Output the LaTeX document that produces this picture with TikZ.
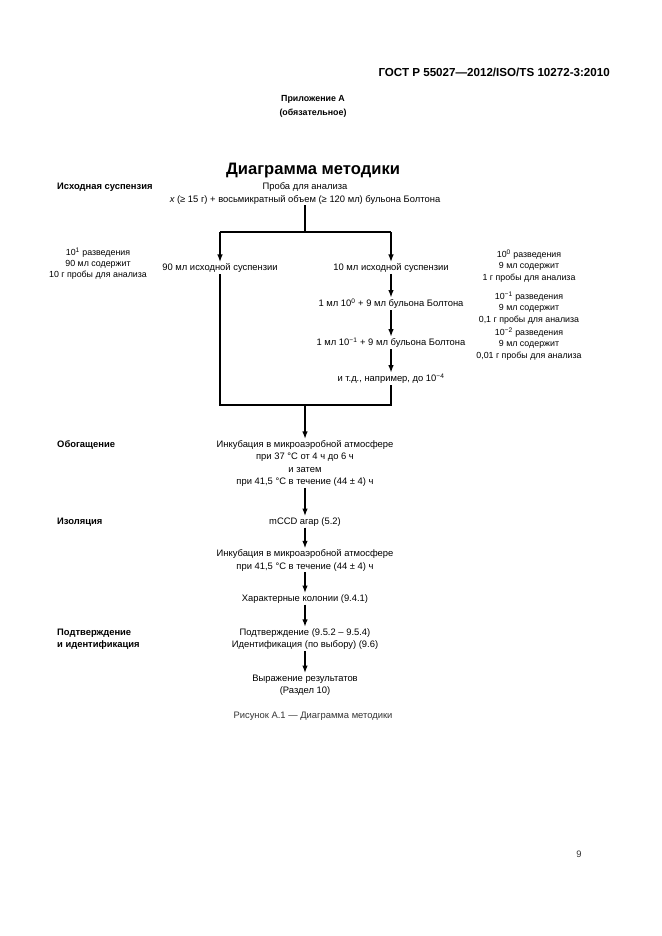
\documentclass[tikz,border=0pt]{standalone}
\usepackage{fontspec}
\setmainfont{Liberation Sans}
\usetikzlibrary{arrows.meta}

\begin{document}
\begin{tikzpicture}[
        x=0.0318cm, y=-0.0318cm,
        body/.style={align=center, font=\fontsize{8.5}{11.2}\selectfont, inner sep=1pt},
        stage/.style={anchor=west, align=left, font=\fontsize{8.5}{11.2}\selectfont\bfseries, inner sep=0pt},
        note/.style={align=center, font=\fontsize{8}{10.2}\selectfont, inner sep=0pt},
        flow/.style={-{Latex[length=7pt,width=5pt]}, line width=1.4pt},
        link/.style={line width=1.4pt}
    ]
    \useasboundingbox (0,0) rectangle (661,936);

    % Page head
    \node[anchor=east, font=\fontsize{10.5}{12}\selectfont\bfseries, inner sep=0pt] (gost) at (610,72) {ГОСТ Р 55027---2012/ISO/TS 10272-3:2010};
    \node[align=center, font=\fontsize{8}{13}\selectfont\bfseries, inner sep=0pt] (annex) at (313,106.5) {Приложение А\\(обязательное)};
    \node[font=\fontsize{15}{18}\selectfont\bfseries, inner sep=0pt] (title) at (313,171) {Диаграмма методики};

    % Stages on the left
    \node[stage] (initial) at (57,187) {Исходная суспензия};
    \node[stage] (enrichment) at (57,445) {Обогащение};
    \node[stage] (isolation) at (57,522) {Изоляция};
    \node[stage] (confirmation) at (57,639) {Подтверждение\\и идентификация};

    % Initial suspension and dilutions
    \node[body] (probe) at (305,193.5) {Проба для анализа\\{\itshape x} (≥ 15 г) + восьмикратный объем (≥ 120 мл) бульона Болтона};
    \node[body] (ninety) at (220,268) {90 мл исходной суспензии};
    \node[body] (ten) at (391,268) {10 мл исходной суспензии};
    \node[body] (dilA) at (391,304) {1 мл 10\textsuperscript{0} + 9 мл бульона Болтона};
    \node[body] (dilB) at (391,343) {1 мл 10\textsuperscript{−1} + 9 мл бульона Болтона};
    \node[body] (etc) at (391,379) {и т.д., например, до 10\textsuperscript{−4}};

    % Dilution notes
    \node[note] (noteone) at (98,263.5) {10\textsuperscript{1} разведения\\90 мл содержит\\10 г пробы для анализа};
    \node[note] (notezero) at (529,266) {10\textsuperscript{0} разведения\\9 мл содержит\\1 г пробы для анализа};
    \node[note] (noteminone) at (529,308) {10\textsuperscript{−1} разведения\\9 мл содержит\\0,1 г пробы для анализа};
    \node[note] (noteminttwo) at (529,344) {10\textsuperscript{−2} разведения\\9 мл содержит\\0,01 г пробы для анализа};

    % Enrichment, isolation, confirmation
    \node[body] (incubA) at (305,463.5) {Инкубация в микроаэробной атмосфере\\при 37 °С от 4 ч до 6 ч\\и затем\\при 41,5 °С в течение (44 ± 4) ч};
    \node[body] (mccd) at (305,522) {mCCD агар (5.2)};
    \node[body] (incubB) at (305,560.5) {Инкубация в микроаэробной атмосфере\\при 41,5 °С в течение (44 ± 4) ч};
    \node[body] (colonies) at (305,599) {Характерные колонии (9.4.1)};
    \node[body] (confirm) at (305,639) {Подтверждение (9.5.2 -- 9.5.4)\\Идентификация (по выбору) (9.6)};
    \node[body] (result) at (305,685) {Выражение результатов\\(Раздел 10)};

    % Split and join points
    \coordinate (split) at (305,232);
    \coordinate (splitL) at (220,232);
    \coordinate (splitR) at (391,232);
    \coordinate (joinL) at (220,405);
    \coordinate (joinR) at (391,405);
    \coordinate (join) at (305,405);

    % Flows
    \draw[link] (probe) -- (split);
    \draw[link] (splitL) -- (splitR);
    \draw[flow] (splitL) -- (ninety);
    \draw[flow] (splitR) -- (ten);
    \draw[flow] (ten) -- (dilA);
    \draw[flow] (dilA) -- (dilB);
    \draw[flow] (dilB) -- (etc);
    \draw[link] (etc) -- (joinR) -- (joinL) -- (ninety);
    \draw[flow] (join) -- (incubA);
    \draw[flow] (incubA) -- (mccd);
    \draw[flow] (mccd) -- (incubB);
    \draw[flow] (incubB) -- (colonies);
    \draw[flow] (colonies) -- (confirm);
    \draw[flow] (confirm) -- (result);

    % Caption and page number
    \node[font=\fontsize{8.5}{10}\selectfont, text=black!80, inner sep=0pt] (caption) at (313,716) {Рисунок А.1 --- Диаграмма методики};
    \node[font=\fontsize{8.5}{10}\selectfont, text=black!80, inner sep=0pt] (page) at (579,854) {9};
\end{tikzpicture}
\end{document}
